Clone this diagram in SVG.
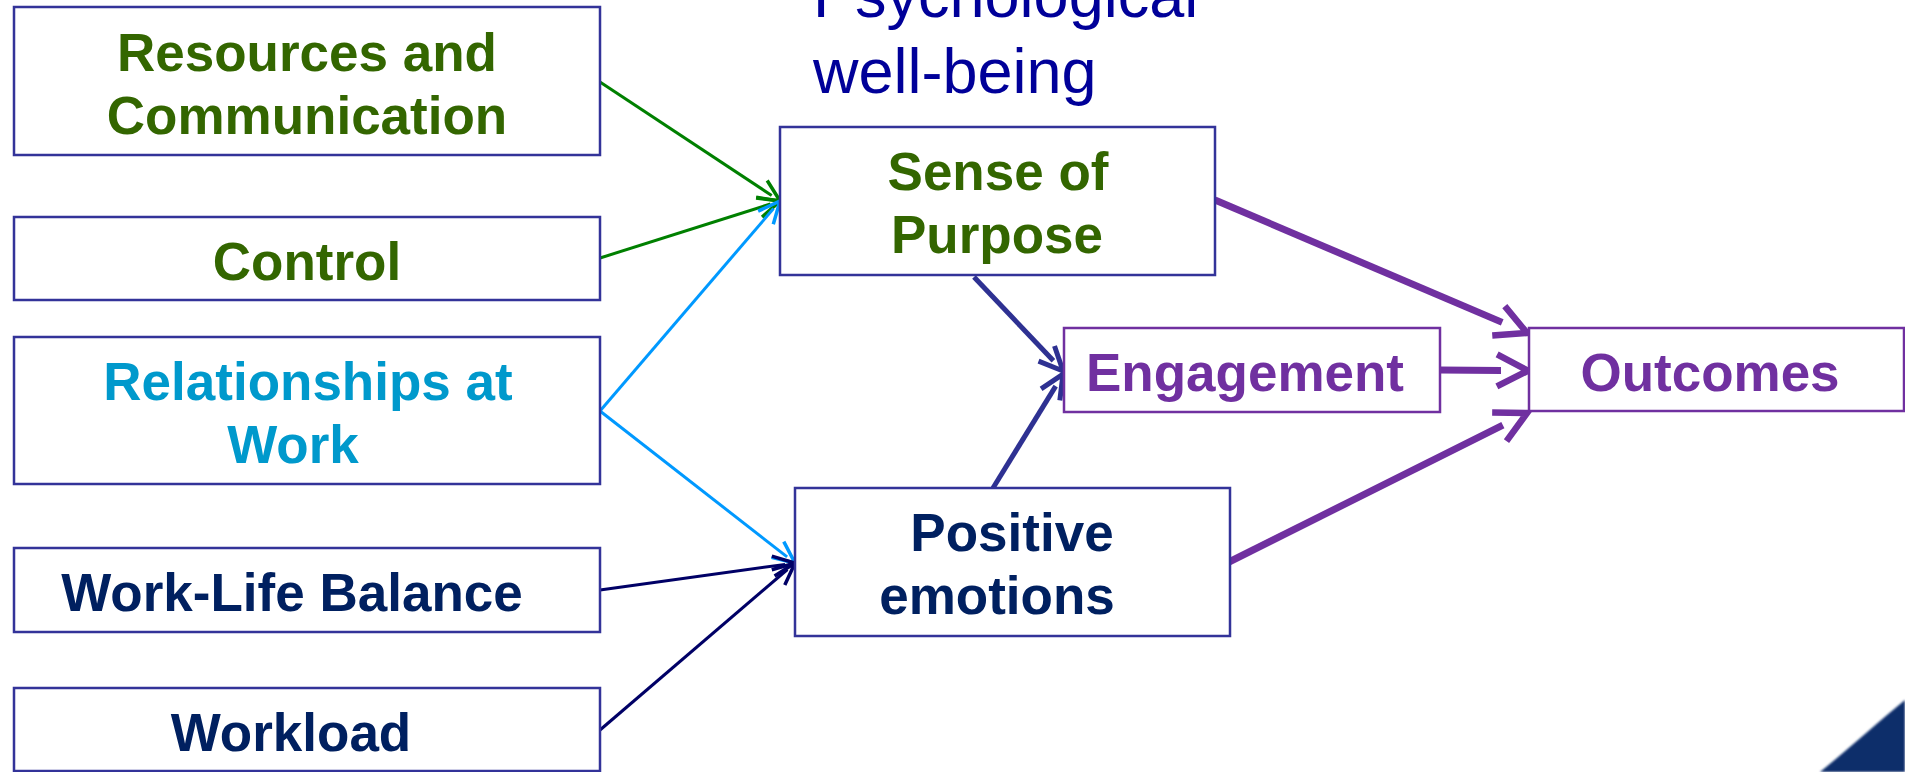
<svg xmlns="http://www.w3.org/2000/svg" width="1905" height="772" viewBox="0 0 1905 772">
  <style>
    .box { fill: #ffffff; stroke: #333399; stroke-width: 2.5; }
    .pbox { fill: #ffffff; stroke: #7030A0; stroke-width: 2.5; }
    .lbl { font-family: "Liberation Sans", Arial, sans-serif; font-weight: bold; font-size: 53px; text-anchor: middle; }
    .green { fill: #336600; }
    .cyan { fill: #0099CC; }
    .navy { fill: #002060; }
    .purple { fill: #7030A0; }
    .title { font-family: "Liberation Sans", Arial, sans-serif; font-size: 63px; fill: #000099; }
    .cn { fill: none; stroke-linecap: butt; }
  </style>
  <defs>
    <marker id="arrowGreen" markerUnits="userSpaceOnUse" orient="auto" overflow="visible" refX="-10" refY="0" markerWidth="1" markerHeight="1">
      <path d="M-22,-10 L0,0 L-22,10" fill="none" stroke="#008000" stroke-width="3.5"/>
    </marker>
    <marker id="arrowBlue" markerUnits="userSpaceOnUse" orient="auto" overflow="visible" refX="-10" refY="0" markerWidth="1" markerHeight="1">
      <path d="M-22,-10 L0,0 L-22,10" fill="none" stroke="#0099FF" stroke-width="3.5"/>
    </marker>
    <marker id="arrowNavy" markerUnits="userSpaceOnUse" orient="auto" overflow="visible" refX="-10" refY="0" markerWidth="1" markerHeight="1">
      <path d="M-22,-10 L0,0 L-22,10" fill="none" stroke="#000066" stroke-width="3.5"/>
    </marker>
    <marker id="arrowIndigo" markerUnits="userSpaceOnUse" orient="auto" overflow="visible" refX="-14" refY="0" markerWidth="1" markerHeight="1">
      <path d="M-24,-11 L0,0 L-24,11" fill="none" stroke="#2E3192" stroke-width="5"/>
    </marker>
    <marker id="arrowPurple" markerUnits="userSpaceOnUse" orient="auto" overflow="visible" refX="-27" refY="0" markerWidth="1" markerHeight="1">
      <path d="M-31,-16 L0,0 L-31,16" fill="none" stroke="#7030A0" stroke-width="6.5"/>
    </marker>
    <filter id="soft" x="-10%" y="-10%" width="120%" height="120%">
      <feGaussianBlur stdDeviation="1.2"/>
    </filter>
  </defs>

  <rect width="1905" height="772" fill="#ffffff"/>

  <!-- corner swoosh -->
  <path d="M1820,772 C1852,746 1878,722 1905,700 L1905,772 Z" fill="#0A2D6A" filter="url(#soft)"/>

  <!-- heading -->
  <g id="heading">
    <text class="title" x="813" y="17">Psychological</text>
    <text class="title" x="813" y="93">well-being</text>
  </g>

  <!-- connectors -->
  <g id="connectors" class="cn">
    <line x1="600" y1="82" x2="771.7" y2="195.5" stroke="#008000" stroke-width="3" marker-end="url(#arrowGreen)"/>
    <line x1="600" y1="258" x2="770.5" y2="204" stroke="#008000" stroke-width="3" marker-end="url(#arrowGreen)"/>
    <line x1="600" y1="411" x2="773.5" y2="208.6" stroke="#0099FF" stroke-width="3" marker-end="url(#arrowBlue)"/>
    <line x1="600" y1="411" x2="787.1" y2="556.9" stroke="#0099FF" stroke-width="3" marker-end="url(#arrowBlue)"/>
    <line x1="600" y1="590" x2="785.1" y2="564.4" stroke="#000066" stroke-width="3" marker-end="url(#arrowNavy)"/>
    <line x1="600" y1="730" x2="787.4" y2="569.5" stroke="#000066" stroke-width="3" marker-end="url(#arrowNavy)"/>
    <line x1="974" y1="277" x2="1053.4" y2="360.8" stroke="#2E3192" stroke-width="5" marker-end="url(#arrowIndigo)"/>
    <line x1="993" y1="488" x2="1055.7" y2="386.1" stroke="#2E3192" stroke-width="5" marker-end="url(#arrowIndigo)"/>
    <line x1="1215" y1="200" x2="1502.2" y2="322.4" stroke="#7030A0" stroke-width="7" marker-end="url(#arrowPurple)"/>
    <line x1="1440" y1="370" x2="1501" y2="370.5" stroke="#7030A0" stroke-width="7" marker-end="url(#arrowPurple)"/>
    <line x1="1229" y1="562" x2="1502.9" y2="425.1" stroke="#7030A0" stroke-width="7" marker-end="url(#arrowPurple)"/>
  </g>

  <!-- drivers -->
  <g id="resources">
    <rect class="box" x="14" y="7" width="586" height="148"/>
    <text class="lbl green" x="307" y="71">Resources and</text>
    <text class="lbl green" x="307" y="134">Communication</text>
  </g>
  <g id="control">
    <rect class="box" x="14" y="217" width="586" height="83"/>
    <text class="lbl green" x="307" y="280">Control</text>
  </g>
  <g id="relationships">
    <rect class="box" x="14" y="337" width="586" height="147"/>
    <text class="lbl cyan" x="308" y="400">Relationships at</text>
    <text class="lbl cyan" x="293" y="463">Work</text>
  </g>
  <g id="work-life-balance">
    <rect class="box" x="14" y="548" width="586" height="84"/>
    <text class="lbl navy" x="292" y="611">Work-Life Balance</text>
  </g>
  <g id="workload">
    <rect class="box" x="14" y="688" width="586" height="83"/>
    <text class="lbl navy" x="291" y="751">Workload</text>
  </g>

  <!-- well-being -->
  <g id="sense-of-purpose">
    <rect class="box" x="780" y="127" width="435" height="148"/>
    <text class="lbl green" x="998" y="190">Sense of</text>
    <text class="lbl green" x="997" y="253">Purpose</text>
  </g>
  <g id="positive-emotions">
    <rect class="box" x="795" y="488" width="435" height="148"/>
    <text class="lbl navy" x="1012" y="551">Positive</text>
    <text class="lbl navy" x="997" y="614">emotions</text>
  </g>

  <!-- results -->
  <g id="engagement">
    <rect class="pbox" x="1064" y="328" width="376" height="84"/>
    <text class="lbl purple" x="1245" y="391">Engagement</text>
  </g>
  <g id="outcomes">
    <rect class="pbox" x="1529" y="328" width="375" height="83"/>
    <text class="lbl purple" x="1710" y="391">Outcomes</text>
  </g>
</svg>
